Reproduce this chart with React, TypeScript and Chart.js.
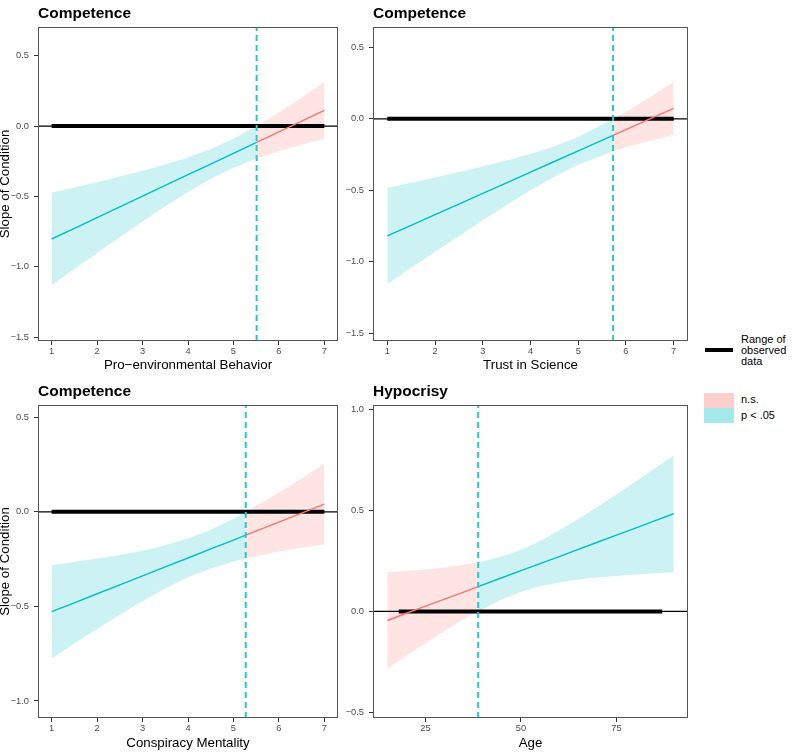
import React, { useEffect, useRef } from 'react';
import { Chart, registerables } from 'chart.js';

Chart.register(...registerables);

const FONT = '"Liberation Sans", Arial, Helvetica, sans-serif';
const SIG = '#00BFC4';
const NS = '#F8766D';
const SIG_FILL = 'rgba(0,191,196,0.2)';
const NS_FILL = 'rgba(248,118,109,0.2)';
const JN_COLOR = '#2EC5CA';

// ---------- Panel 1: Competence x Pro-environmental Behavior ----------
const P1_TITLE = 'Competence';
const P1_XLABEL = 'Pro\u2212environmental Behavior';
const P1_X = [1, 1.5, 2, 2.5, 3, 3.5, 4, 4.5, 5, 5.51, 6, 6.5, 7];
const P1_EST = [-0.803, -0.727, -0.651, -0.575, -0.498, -0.422, -0.346, -0.27, -0.194, -0.116, -0.041, 0.035, 0.111];
const P1_LO = [-1.131, -1.017, -0.903, -0.79, -0.679, -0.571, -0.469, -0.375, -0.296, -0.231, -0.179, -0.133, -0.091];
const P1_HI = [-0.475, -0.437, -0.399, -0.359, -0.317, -0.273, -0.223, -0.164, -0.091, 0, 0.097, 0.203, 0.313];
const P1_JN = 5.51;
const P1_RANGE = [1, 7];
const P1_XTICKS = [1, 2, 3, 4, 5, 6, 7];
const P1_YTICKS = [-1.5, -1, -0.5, 0, 0.5];
const P1_XLIM = [0.7, 7.3];
const P1_YLIM = [-1.528, 0.704];

// ---------- Panel 2: Competence x Trust in Science ----------
const P2_TITLE = 'Competence';
const P2_XLABEL = 'Trust in Science';
const P2_X = [1, 1.5, 2, 2.5, 3, 3.5, 4, 4.5, 5, 5.73, 6, 6.5, 7];
const P2_EST = [-0.82, -0.746, -0.671, -0.597, -0.522, -0.448, -0.374, -0.299, -0.225, -0.116, -0.076, -0.001, 0.073];
const P2_LO = [-1.156, -1.043, -0.931, -0.821, -0.711, -0.604, -0.501, -0.405, -0.322, -0.228, -0.2, -0.154, -0.112];
const P2_HI = [-0.485, -0.448, -0.411, -0.373, -0.334, -0.292, -0.246, -0.193, -0.128, 0, 0.048, 0.151, 0.258];
const P2_JN = 5.73;
const P2_RANGE = [1, 7];
const P2_XTICKS = [1, 2, 3, 4, 5, 6, 7];
const P2_YTICKS = [-1.5, -1, -0.5, 0, 0.5];
const P2_XLIM = [0.7, 7.3];
const P2_YLIM = [-1.556, 0.643];

// ---------- Panel 3: Competence x Conspiracy Mentality ----------
const P3_TITLE = 'Competence';
const P3_XLABEL = 'Conspiracy Mentality';
const P3_X = [1, 1.5, 2, 2.5, 3, 3.5, 4, 4.5, 5, 5.27, 6, 6.5, 7];
const P3_EST = [-0.528, -0.481, -0.433, -0.386, -0.339, -0.291, -0.244, -0.196, -0.149, -0.123, -0.054, -0.007, 0.041];
const P3_LO = [-0.775, -0.696, -0.619, -0.544, -0.472, -0.405, -0.346, -0.299, -0.262, -0.246, -0.21, -0.19, -0.173];
const P3_HI = [-0.282, -0.265, -0.247, -0.228, -0.205, -0.177, -0.141, -0.094, -0.036, 0, 0.102, 0.177, 0.254];
const P3_JN = 5.27;
const P3_RANGE = [1, 7];
const P3_XTICKS = [1, 2, 3, 4, 5, 6, 7];
const P3_YTICKS = [-1, -0.5, 0, 0.5];
const P3_XLIM = [0.7, 7.3];
const P3_YLIM = [-1.09, 0.565];

// ---------- Panel 4: Hypocrisy x Age ----------
const P4_TITLE = 'Hypocrisy';
const P4_XLABEL = 'Age';
const P4_X = [15, 20, 25, 30, 35, 38.8, 45, 50, 55, 60, 65, 70, 75, 80, 85, 90];
const P4_EST = [-0.045, -0.009, 0.026, 0.061, 0.096, 0.123, 0.167, 0.202, 0.237, 0.272, 0.308, 0.343, 0.378, 0.413, 0.449, 0.484];
const P4_LO = [-0.283, -0.219, -0.157, -0.096, -0.038, 0, 0.061, 0.098, 0.125, 0.144, 0.158, 0.168, 0.176, 0.183, 0.189, 0.194];
const P4_HI = [0.194, 0.2, 0.208, 0.218, 0.231, 0.243, 0.272, 0.306, 0.349, 0.401, 0.458, 0.518, 0.58, 0.644, 0.708, 0.773];
const P4_JN = 38.8;
const P4_RANGE = [18, 87];
const P4_XTICKS = [25, 50, 75];
const P4_YTICKS = [-0.5, 0, 0.5, 1];
const P4_XLIM = [11.25, 93.75];
const P4_YLIM = [-0.528, 1.023];

// Legend
const LEGEND_RANGE_LABEL = ['Range of', 'observed', 'data'];
const LEGEND_NS = 'n.s.';
const LEGEND_SIG = 'p < .05';

type PanelData = {
  title: string; xlabel: string; x: number[]; est: number[]; lo: number[]; hi: number[];
  jn: number; range: number[]; xticks: number[]; yticks: number[]; xlim: number[]; ylim: number[];
  sigLeft: boolean; xDecimals: number;
};
type PanelLayout = {
  left: number; top: number; w: number; h: number; padTop: number; padRight: number;
  yAxisW: number; xAxisH: number; yTitle: boolean;
};

const PANELS: { d: PanelData; l: PanelLayout }[] = [
  {
    d: { title: P1_TITLE, xlabel: P1_XLABEL, x: P1_X, est: P1_EST, lo: P1_LO, hi: P1_HI, jn: P1_JN, range: P1_RANGE,
      xticks: P1_XTICKS, yticks: P1_YTICKS, xlim: P1_XLIM, ylim: P1_YLIM, sigLeft: true, xDecimals: 0 },
    l: { left: 0, top: 0, w: 345, h: 375, padTop: 27, padRight: 7, yAxisW: 38, xAxisH: 34, yTitle: true },
  },
  {
    d: { title: P2_TITLE, xlabel: P2_XLABEL, x: P2_X, est: P2_EST, lo: P2_LO, hi: P2_HI, jn: P2_JN, range: P2_RANGE,
      xticks: P2_XTICKS, yticks: P2_YTICKS, xlim: P2_XLIM, ylim: P2_YLIM, sigLeft: true, xDecimals: 0 },
    l: { left: 345, top: 0, w: 355, h: 375, padTop: 27, padRight: 12, yAxisW: 28, xAxisH: 34, yTitle: false },
  },
  {
    d: { title: P3_TITLE, xlabel: P3_XLABEL, x: P3_X, est: P3_EST, lo: P3_LO, hi: P3_HI, jn: P3_JN, range: P3_RANGE,
      xticks: P3_XTICKS, yticks: P3_YTICKS, xlim: P3_XLIM, ylim: P3_YLIM, sigLeft: true, xDecimals: 0 },
    l: { left: 0, top: 375, w: 345, h: 378, padTop: 30, padRight: 7, yAxisW: 38, xAxisH: 35, yTitle: true },
  },
  {
    d: { title: P4_TITLE, xlabel: P4_XLABEL, x: P4_X, est: P4_EST, lo: P4_LO, hi: P4_HI, jn: P4_JN, range: P4_RANGE,
      xticks: P4_XTICKS, yticks: P4_YTICKS, xlim: P4_XLIM, ylim: P4_YLIM, sigLeft: false, xDecimals: 0 },
    l: { left: 345, top: 375, w: 355, h: 378, padTop: 30, padRight: 12, yAxisW: 28, xAxisH: 35, yTitle: false },
  },
];

const minus = (s: string) => s.replace('-', '\u2212');

const panelDecor = {
  id: 'panelDecor',
  afterDraw(chart: any, _args: any, opts: any) {
    const { ctx, chartArea: a } = chart;
    ctx.save();
    ctx.strokeStyle = '#555555';
    ctx.lineWidth = 1;
    ctx.strokeRect(Math.round(a.left) + 0.5, Math.round(a.top) + 0.5, Math.round(a.width) - 1, Math.round(a.height) - 1);
    ctx.fillStyle = '#000000';
    ctx.font = `bold 15.5px ${FONT}`;
    ctx.textAlign = 'left';
    ctx.textBaseline = 'alphabetic';
    ctx.fillText(opts.title, a.left, a.top - 9);
    ctx.restore();
  },
};

function buildDatasets(d: PanelData) {
  const idx = d.x.map((_, i) => i);
  const left = idx.filter((i) => d.x[i] <= d.jn);
  const right = idx.filter((i) => d.x[i] >= d.jn);
  const sigIdx = d.sigLeft ? left : right;
  const nsIdx = d.sigLeft ? right : left;
  const pts = (ids: number[], arr: number[]) => ids.map((i) => ({ x: d.x[i], y: arr[i] }));
  const base = { pointRadius: 0, tension: 0 };
  return [
    { ...base, data: pts(sigIdx, d.hi), fill: '+1', backgroundColor: SIG_FILL, borderWidth: 0, borderColor: 'transparent', order: 20 },
    { ...base, data: pts(sigIdx, d.lo), fill: false, borderWidth: 0, borderColor: 'transparent', order: 21 },
    { ...base, data: pts(nsIdx, d.hi), fill: '+1', backgroundColor: NS_FILL, borderWidth: 0, borderColor: 'transparent', order: 20 },
    { ...base, data: pts(nsIdx, d.lo), fill: false, borderWidth: 0, borderColor: 'transparent', order: 21 },
    { ...base, data: [{ x: d.xlim[0], y: 0 }, { x: d.xlim[1], y: 0 }], borderColor: '#000000', borderWidth: 1.2, fill: false, order: 10 },
    { ...base, data: [{ x: d.range[0], y: 0 }, { x: d.range[1], y: 0 }], borderColor: '#000000', borderWidth: 4, borderCapStyle: 'butt', fill: false, order: 9 },
    { ...base, data: pts(sigIdx, d.est), borderColor: SIG, borderWidth: 1.4, fill: false, order: 5 },
    { ...base, data: pts(nsIdx, d.est), borderColor: NS, borderWidth: 1.4, fill: false, order: 5 },
    { ...base, data: [{ x: d.jn, y: d.ylim[0] }, { x: d.jn, y: d.ylim[1] }], borderColor: JN_COLOR, borderWidth: 2, borderDash: [6, 4], fill: false, order: 1 },
  ];
}

function Panel({ d, l }: { d: PanelData; l: PanelLayout }) {
  const ref = useRef<HTMLCanvasElement>(null);
  useEffect(() => {
    const tickFont = { family: FONT, size: 9.3 };
    const titleFont = { family: FONT, size: 13.3, lineHeight: 0.85 };
    const chart = new Chart(ref.current as HTMLCanvasElement, {
      type: 'line',
      data: { datasets: buildDatasets(d) as any },
      options: {
        animation: false,
        responsive: false,
        maintainAspectRatio: false,
        devicePixelRatio: 1,
        layout: { padding: { top: l.padTop, right: l.padRight, left: 0, bottom: 0 } },
        plugins: {
          legend: { display: false },
          tooltip: { enabled: false },
          panelDecor: { title: d.title },
        } as any,
        scales: {
          x: {
            type: 'linear',
            min: d.xlim[0],
            max: d.xlim[1],
            afterBuildTicks: (s: any) => { s.ticks = d.xticks.map((v) => ({ value: v })); },
            afterFit: (s: any) => { s.height = l.xAxisH; },
            ticks: {
              font: tickFont, color: '#4D4D4D', padding: 1, maxRotation: 0, autoSkip: false,
              callback: (v: any) => minus(Number(v).toFixed(d.xDecimals)),
            },
            grid: { display: true, drawOnChartArea: false, drawTicks: true, tickLength: 4, color: '#333333', lineWidth: 1 },
            border: { display: false },
            title: { display: true, text: d.xlabel, color: '#000000', font: titleFont, padding: { top: 0, bottom: 4 } },
          },
          y: {
            type: 'linear',
            min: d.ylim[0],
            max: d.ylim[1],
            afterBuildTicks: (s: any) => { s.ticks = d.yticks.map((v) => ({ value: v })); },
            afterFit: (s: any) => { s.width = l.yAxisW; },
            ticks: {
              font: tickFont, color: '#4D4D4D', padding: 5, autoSkip: false,
              callback: (v: any) => minus(Number(v).toFixed(1)),
            },
            grid: { display: true, drawOnChartArea: false, drawTicks: true, tickLength: 4, color: '#333333', lineWidth: 1 },
            border: { display: false },
            title: { display: l.yTitle, text: 'Slope of Condition', color: '#000000', font: titleFont, padding: { top: 0, bottom: 0 } },
          },
        },
      } as any,
      plugins: [panelDecor as any],
    });
    return () => chart.destroy();
  }, []);
  return (
    <canvas
      ref={ref}
      width={l.w}
      height={l.h}
      style={{ position: 'absolute', left: l.left, top: l.top, width: l.w, height: l.h }}
    />
  );
}

export default function App() {
  const txt: React.CSSProperties = { position: 'absolute', fontFamily: FONT, fontSize: 11, color: '#000', whiteSpace: 'nowrap' };
  return (
    <div style={{ position: 'fixed', left: 0, top: 0, width: 794, height: 756, background: '#fff', overflow: 'hidden' }}>
      {PANELS.map((p, i) => (
        <Panel key={i} d={p.d} l={p.l} />
      ))}
      <div style={{ position: 'absolute', left: 705, top: 348, width: 28, height: 4, background: '#000' }} />
      <div style={{ ...txt, left: 741, top: 334, lineHeight: '10.8px' }}>
        {LEGEND_RANGE_LABEL.map((s, i) => (
          <div key={i}>{s}</div>
        ))}
      </div>
      <div style={{ position: 'absolute', left: 704, top: 393, width: 30, height: 15, background: '#FDCFCC' }} />
      <div style={{ position: 'absolute', left: 704, top: 408, width: 30, height: 15, background: '#A6E9EA' }} />
      <div style={{ ...txt, left: 741, top: 392, lineHeight: '15px' }}>{LEGEND_NS}</div>
      <div style={{ ...txt, left: 741, top: 408, lineHeight: '15px' }}>{LEGEND_SIG}</div>
    </div>
  );
}
